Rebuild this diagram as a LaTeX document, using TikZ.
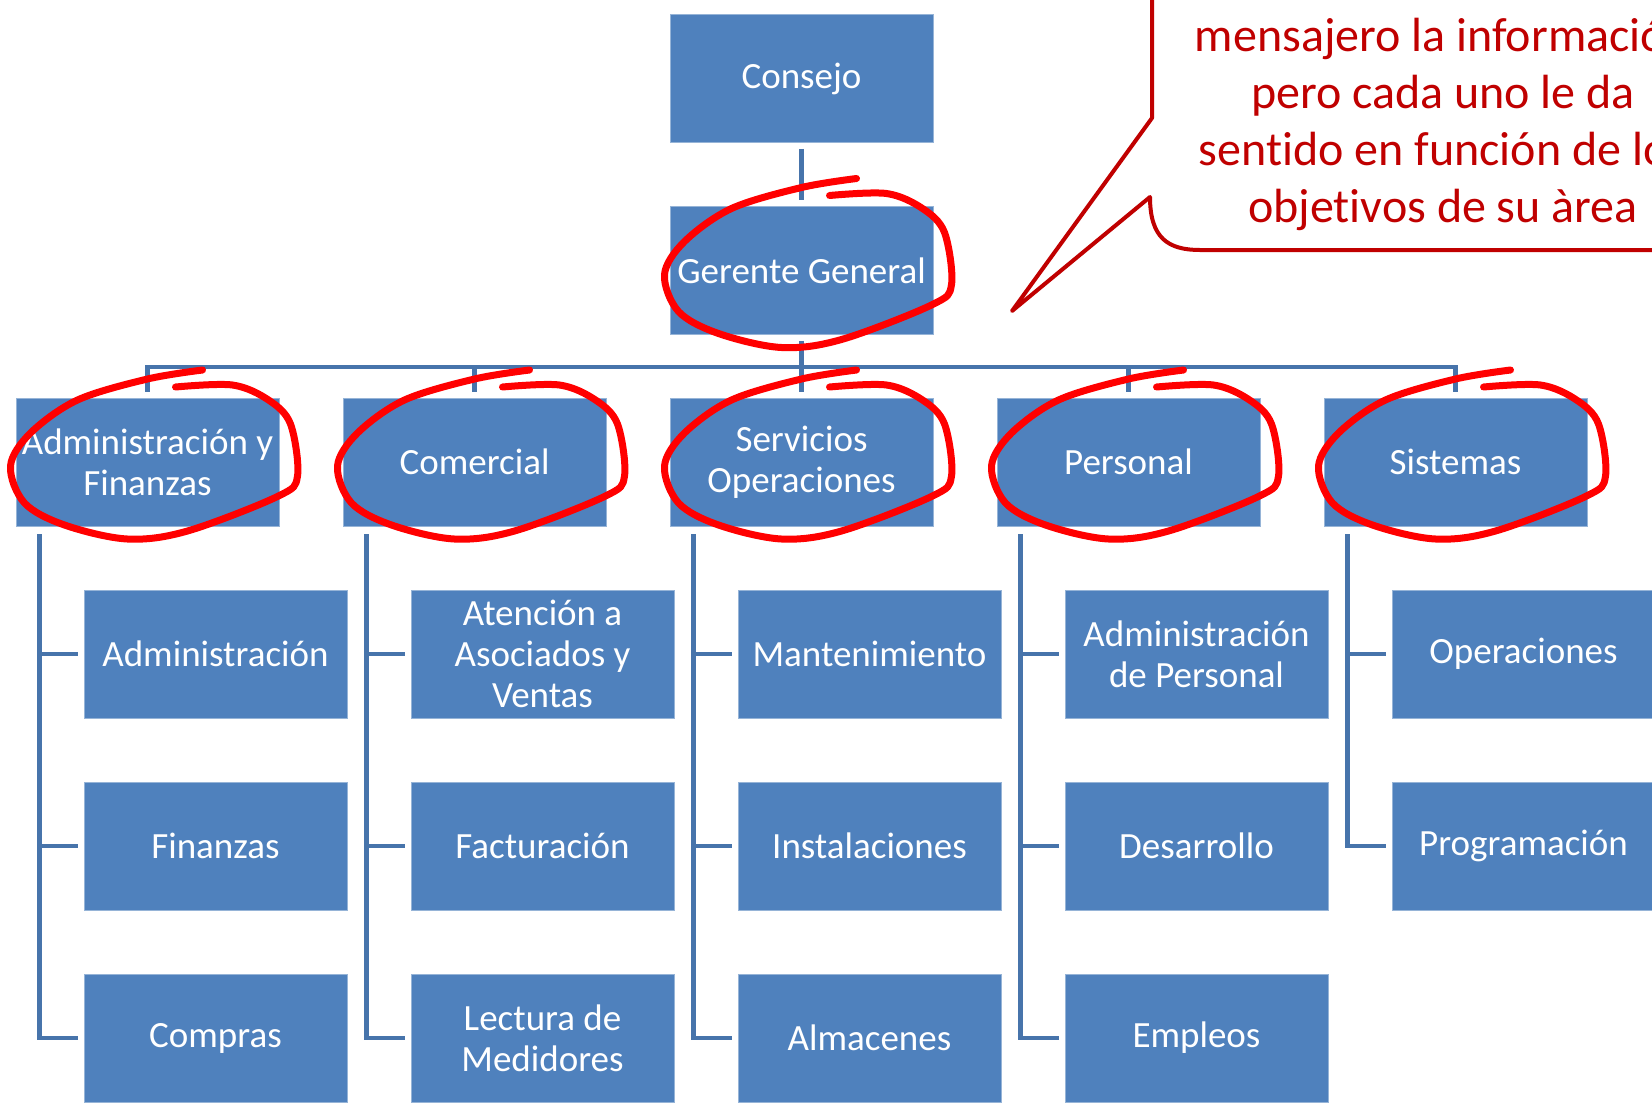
\documentclass[tikz,border=0pt]{standalone}
\usepackage{fontspec}
\setmainfont{Carlito}[Ligatures={NoCommon}]
\usetikzlibrary{calc}
\definecolor{boxblue}{RGB}{79,129,189}
\definecolor{boxedge}{RGB}{150,180,215}
\definecolor{connblue}{RGB}{71,116,171}
\definecolor{calloutred}{RGB}{192,0,0}
\definecolor{loopred}{RGB}{255,0,0}
\newcommand\redloopat[1]{\draw[redloop, shift={(#1)}] plot[smooth, tension=0.55] coordinates {(55,-92) (0,-83) (-70,-62) (-117,-29) (-137,4) (-123,41) (-83,63) (-20,77) (40,69) (131,34) (150,14) (143,-38) (121,-62) (85,-77) (28,-75)};}
\begin{document}
\begin{tikzpicture}[x=0.5pt,y=-0.5pt,
  orgbox/.style={rectangle, fill=boxblue, draw=boxedge, line width=0.4pt,
    minimum width=131.5pt, minimum height=64pt, inner sep=0pt, text=white,
    font=\fontsize{18.5}{20.5}\selectfont, align=center},
  conn/.style={draw=connblue, line width=2.3pt},
  redloop/.style={draw=loopred, line width=3.5pt, line cap=round, line join=round},
  callout/.style={draw=calloutred, line width=2pt, line join=round},
  callouttext/.style={text=calloutred, font=\fontsize{24}{28.5}\selectfont, align=center, inner sep=0pt}]
\useasboundingbox (0,0) rectangle (1652,1103);
\clip (0,0) rectangle (1652,1103);
\fill[white] (0,0) rectangle (1652,1103);

% top
\node[orgbox] (con) at (801.5,78.5) {Consejo};
\node[orgbox] (gg) at (801.5,270.5) {Gerente General};

% level 2
\node[orgbox] (adm) at (147.5,462) {Administración y\\Finanzas};
\node[orgbox] (com) at (474.5,462) {Comercial};
\node[orgbox] (ser) at (801.5,462) {Servicios\\Operaciones};
\node[orgbox] (per) at (1128.5,462) {Personal};
\node[orgbox] (sis) at (1455.5,462) {Sistemas};

% level 3
\node[orgbox] (a1) at (215.5,654) {Administración};
\node[orgbox] (a2) at (215.5,846) {Finanzas};
\node[orgbox] (a3) at (215.5,1038) {Compras};
\node[orgbox] (c1) at (542.5,654) {Atención a\\Asociados y\\Ventas};
\node[orgbox] (c2) at (542.5,846) {Facturación};
\node[orgbox] (c3) at (542.5,1038) {Lectura de\\Medidores};
\node[orgbox] (s1) at (869.5,654) {Mantenimiento};
\node[orgbox] (s2) at (869.5,846) {Instalaciones};
\node[orgbox] (s3) at (869.5,1038) {Almacenes};
\node[orgbox] (p1) at (1196.5,654) {Administración\\de Personal};
\node[orgbox] (p2) at (1196.5,846) {Desarrollo};
\node[orgbox] (p3) at (1196.5,1038) {Empleos};
\node[orgbox] (t1) at (1523.5,654) {Operaciones};
\node[orgbox] (t2) at (1523.5,846) {Programación};

% connectors top
\draw[conn] ([yshift=-3pt]con.south) -- ([yshift=3pt]gg.north);
\coordinate (bus) at (0,367);
\coordinate (busL) at (adm.north |- bus);
\coordinate (busR) at (sis.north |- bus);
\draw[conn] ([yshift=-3pt]gg.south) -- (gg.south |- bus);
\draw[conn] ([yshift=3pt]adm.north) -- (busL) -- (busR) -- ([yshift=3pt]sis.north);
\draw[conn] (com.north |- bus) -- ([yshift=3pt]com.north);
\draw[conn] (ser.north |- bus) -- ([yshift=3pt]ser.north);
\draw[conn] (per.north |- bus) -- ([yshift=3pt]per.north);

% children connectors
\coordinate (adm-v) at ([xshift=12pt,yshift=-4pt]adm.south west);
\draw[conn] (adm-v) |- ([xshift=-3pt]a3.west);
\draw[conn] (a1.west -| adm-v) -- ([xshift=-3pt]a1.west);
\draw[conn] (a2.west -| adm-v) -- ([xshift=-3pt]a2.west);

\coordinate (com-v) at ([xshift=12pt,yshift=-4pt]com.south west);
\draw[conn] (com-v) |- ([xshift=-3pt]c3.west);
\draw[conn] (c1.west -| com-v) -- ([xshift=-3pt]c1.west);
\draw[conn] (c2.west -| com-v) -- ([xshift=-3pt]c2.west);

\coordinate (ser-v) at ([xshift=12pt,yshift=-4pt]ser.south west);
\draw[conn] (ser-v) |- ([xshift=-3pt]s3.west);
\draw[conn] (s1.west -| ser-v) -- ([xshift=-3pt]s1.west);
\draw[conn] (s2.west -| ser-v) -- ([xshift=-3pt]s2.west);

\coordinate (per-v) at ([xshift=12pt,yshift=-4pt]per.south west);
\draw[conn] (per-v) |- ([xshift=-3pt]p3.west);
\draw[conn] (p1.west -| per-v) -- ([xshift=-3pt]p1.west);
\draw[conn] (p2.west -| per-v) -- ([xshift=-3pt]p2.west);

\coordinate (sis-v) at ([xshift=12pt,yshift=-4pt]sis.south west);
\draw[conn] (sis-v) |- ([xshift=-3pt]t2.west);
\draw[conn] (t1.west -| sis-v) -- ([xshift=-3pt]t1.west);

% callout
\draw[callout] (1152,-20) -- (1152,118) -- (1012,311) -- (1150,197)
  .. controls (1150,238) and (1168,250) .. (1200,250) -- (1720,250);
\node[callouttext] (ct) at (1443,124.5) {mensajero la información\\pero cada uno le da\\sentido en función de los\\objetivos de su àrea};

% red hand-drawn loops
\redloopat{gg.center}
\redloopat{adm.center}
\redloopat{com.center}
\redloopat{ser.center}
\redloopat{per.center}
\redloopat{sis.center}
\end{tikzpicture}
\end{document}
